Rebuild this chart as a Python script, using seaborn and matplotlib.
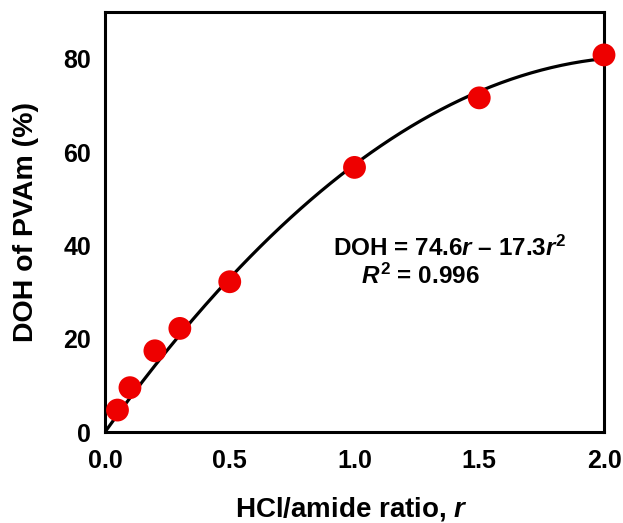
import numpy as np
import pandas as pd
import matplotlib
matplotlib.use("Agg")
import matplotlib.pyplot as plt
import seaborn as sns

# Data
ratio = [0.05, 0.1, 0.2, 0.3, 0.5, 1.0, 1.5, 2.0]
doh = [4.7, 9.5, 17.4, 22.2, 32.2, 56.7, 71.6, 80.8]
fit_coef = [74.6, -17.3]  # DOH = a*r + b*r^2 (from chart annotation)
x_ticks = [0.0, 0.5, 1.0, 1.5, 2.0]
y_ticks = [0, 20, 40, 60, 80]

sns.set_theme(style="white")
plt.rcParams['font.family'] = ['Liberation Sans', 'DejaVu Sans']
plt.rcParams['mathtext.fontset'] = 'custom'
plt.rcParams['mathtext.rm'] = 'Liberation Sans:bold'
plt.rcParams['mathtext.it'] = 'Liberation Sans:bold:italic'
plt.rcParams['mathtext.bf'] = 'Liberation Sans:bold'
for k in ['text.color', 'axes.labelcolor', 'xtick.color', 'ytick.color']:
    plt.rcParams[k] = 'black'

fig = plt.figure(figsize=(6.23, 5.23), dpi=100)
ax = fig.add_axes([105/623, 91/523, 499/623, 420/523])

rr = np.linspace(0, 2.0, 200)
fit_df = pd.DataFrame({"r": rr, "DOH": fit_coef[0]*rr + fit_coef[1]*rr**2})
sns.lineplot(data=fit_df, x="r", y="DOH", ax=ax, color="black", linewidth=2.3, zorder=2)

df = pd.DataFrame({"r": ratio, "DOH": doh})
sns.scatterplot(data=df, x="r", y="DOH", ax=ax, color="#ee0000", s=270,
                edgecolor="none", zorder=3, clip_on=False)

ax.set_xlim(0, 2.0)
ax.set_ylim(0, 90)
ax.set_xticks(x_ticks)
ax.set_yticks(y_ticks)
ax.set_xticklabels([f"{v:.1f}" for v in x_ticks])
ax.set_yticklabels([str(v) for v in y_ticks])
for s in ax.spines.values():
    s.set_linewidth(2.2)
    s.set_color("black")
ax.tick_params(direction="in", length=5, width=2.2, colors="black",
               labelsize=18)
ax.tick_params(axis="x", pad=12)
ax.tick_params(axis="y", pad=10)
for lab in ax.get_xticklabels() + ax.get_yticklabels():
    lab.set_fontweight("bold")

ax.set_xlabel(r"HCl/amide ratio, $\mathit{r}$", fontsize=20, fontweight="bold")
ax.set_ylabel("DOH of PVAm (%)", fontsize=20.5, fontweight="bold")
ax.xaxis.set_label_coords(0.495, -0.150)
ax.yaxis.set_label_coords(-0.132, 0.5)

ax.text(1.383, 39.4, r"DOH = 74.6$\mathit{r}$ – 17.3$\mathit{r}^2$", fontsize=17.5,
        fontweight="bold", ha="center", va="center")
ax.text(1.263, 33.4, r"$\mathit{R}^2$ = 0.996", fontsize=17.5,
        fontweight="bold", ha="center", va="center")

fig.savefig("out.png", dpi=100, facecolor="white")
